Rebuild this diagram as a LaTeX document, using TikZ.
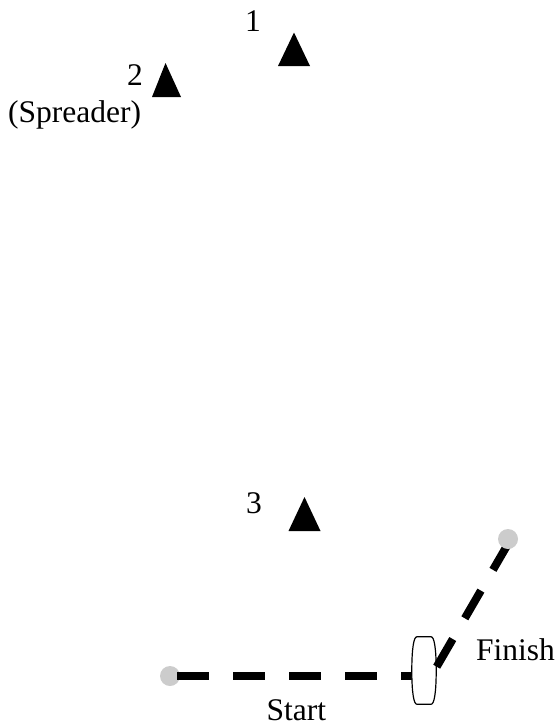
\documentclass[tikz,border=0pt]{standalone}
\usepackage{fontspec}
\setmainfont{Liberation Serif}
\begin{document}
\begin{tikzpicture}[x=1pt,y=-1pt,
  lbl/.style={anchor=base west,inner sep=0pt,font=\fontsize{31.5}{36}\selectfont,text=black},
  marker/.style={fill=black},
  endpoint/.style={circle,fill=black!20,draw=none,minimum size=20pt,inner sep=0pt},
  track/.style={line width=8pt,draw=black,dash pattern=on 32pt off 24pt},
  wheelbox/.style={inner sep=0pt,minimum width=24pt,minimum height=67pt}]
\useasboundingbox (0,0) rectangle (559,728);
% triangles
\fill[marker] (294,32.5) -- (310,66) -- (278,66) -- cycle;
\fill[marker] (165.5,63) -- (181,97) -- (152,97) -- cycle;
\fill[marker] (304.5,497) -- (320.5,531) -- (288.5,531) -- cycle;
% labels
\node[lbl] (one) at (245,31) {1};
\node[lbl] (two) at (127,85) {2};
\node[lbl] (spreader) at (8,122) {(Spreader)};
\node[lbl] (three) at (246,513) {3};
\node[lbl] (finishlbl) at (476,660) {Finish};
\node[lbl] (startlbl) at (266.5,720.5) {Start};
% ends and wheel
\node[wheelbox] (wheel) at (424,670.5) {};
\coordinate (turn) at (436.7,666.7);
\coordinate (finishpt) at (510,540.5);
\node[endpoint] (start) at (170,676) {};
\draw[track,dash phase=49pt] (start.center) -- (wheel.west |- start.center);
\draw[fill=white,line width=1.2pt]
  ([xshift=5pt]wheel.north west) -- ([xshift=-5pt]wheel.north east)
  .. controls ([xshift=-2pt]wheel.north east) and ([yshift=22pt]wheel.east) .. (wheel.east)
  .. controls ([yshift=-22pt]wheel.east) and ([xshift=-2pt]wheel.south east) .. ([xshift=-5pt]wheel.south east)
  -- ([xshift=5pt]wheel.south west)
  .. controls ([xshift=2pt]wheel.south west) and ([yshift=-22pt]wheel.west) .. (wheel.west)
  .. controls ([yshift=22pt]wheel.west) and ([xshift=2pt]wheel.north west) .. cycle;
\draw[track] (turn) -- (finishpt);
\node[endpoint] (finish) at (508,539) {};
\end{tikzpicture}
\end{document}
